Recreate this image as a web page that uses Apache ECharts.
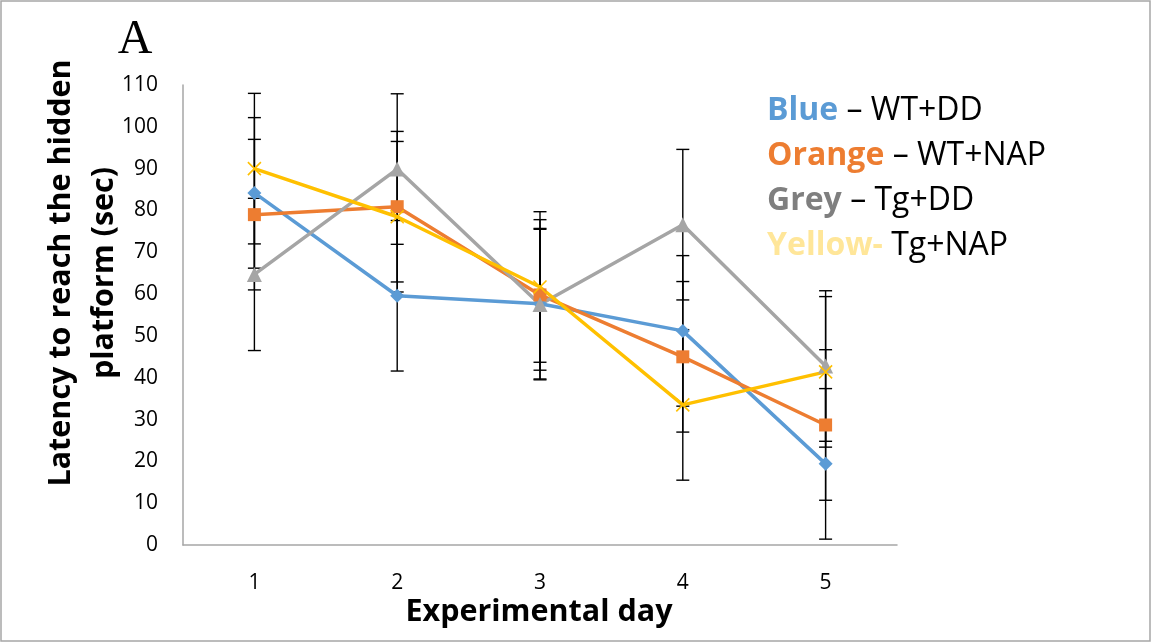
<!DOCTYPE html>
<html>
<head>
<meta charset="utf-8">
<script src="https://cdn.jsdelivr.net/npm/echarts@6/dist/echarts.min.js"></script>
<style>html,body{margin:0;padding:0;background:#fff}#c{width:1153px;height:643px}</style>
</head>
<body>
<div id="c"></div>
<script>
const days = ['1', '2', '3', '4', '5'];
const yTicks = { min: 0, max: 110, interval: 10 };

const wtDD   = [84.2, 59.6, 57.7, 51.2, 19.4];
const wtNAP  = [79.0, 80.9, 59.8, 45.0, 28.7];
const tgDD   = [64.7, 89.9, 57.5, 76.6, 42.8];
const tgNAP  = [90.0, 78.5, 61.7, 33.5, 41.4];

const wtDDErr  = [18.0, 18.0, 18.0, 18.0, 18.0];
const wtNAPErr = [18.0, 18.0, 18.0, 18.0, 18.0];
const tgDDErr  = [18.2, 18.0, 18.0, 18.0, 18.0];
const tgNAPErr = [18.0, 18.0, 18.0, 18.0, 18.0];

const seriesNames = ['WT+DD', 'WT+NAP', 'Tg+DD', 'Tg+NAP'];
const legendWords = ['Blue', 'Orange', 'Grey', 'Yellow-'];
const legendTails = [' – WT+DD', ' – WT+NAP', ' – Tg+DD', ' Tg+NAP'];
const yTitle = 'Latency to reach the hidden\nplatform (sec)';
const xTitle = 'Experimental day';
const panelLabel = 'A';

const colors = ['#5B9BD5', '#ED7D31', '#A5A5A5', '#FFC000'];
const legendColors = ['#5B9BD5', '#ED7D31', '#7F7F7F', '#FFE699'];
const FONT = '"Open Sans", "Liberation Sans", sans-serif';

const means = [wtDD, wtNAP, tgDD, tgNAP];
const errs = [wtDDErr, wtNAPErr, tgDDErr, tgNAPErr];

function errorSeries(i) {
  return {
    type: 'custom',
    name: seriesNames[i] + ' err',
    z: 1,
    silent: true,
    data: means[i].map((m, k) => [k, m - errs[i][k], m + errs[i][k]]),
    renderItem: function (params, api) {
      const x = api.value(0);
      const lo = api.coord([x, api.value(1)]);
      const hi = api.coord([x, api.value(2)]);
      const hw = 6.5;
      const st = { stroke: '#000', lineWidth: 1.4 };
      return {
        type: 'group',
        children: [
          { type: 'line', shape: { x1: lo[0], y1: lo[1], x2: hi[0], y2: hi[1] }, style: st },
          { type: 'line', shape: { x1: lo[0] - hw, y1: lo[1], x2: lo[0] + hw, y2: lo[1] }, style: st },
          { type: 'line', shape: { x1: hi[0] - hw, y1: hi[1], x2: hi[0] + hw, y2: hi[1] }, style: st }
        ]
      };
    }
  };
}

const symbols = ['diamond', 'rect', 'triangle', 'path://M0,0L10,10M10,0L0,10'];
const symbolSizes = [14, 13, 15, 13];

function lineSeries(i) {
  const s = {
    type: 'line',
    name: seriesNames[i],
    z: 3,
    data: means[i],
    symbol: symbols[i],
    symbolSize: symbolSizes[i],
    showAllSymbol: true,
    lineStyle: { color: colors[i], width: 3.5 },
    itemStyle: { color: colors[i] },
    emphasis: { disabled: true }
  };
  if (i === 3) {
    s.itemStyle = { color: 'none', borderColor: colors[i], borderWidth: 1.6 };
  }
  return s;
}

const chart = echarts.init(document.getElementById('c'), null, { renderer: 'canvas' });

const graphics = [
  { type: 'rect', shape: { x: 1, y: 1, width: 1149, height: 640 }, style: { fill: 'none', stroke: '#A6A6A6', lineWidth: 1.5 }, z: 0 },
  { type: 'text', x: 135, y: 40, style: { text: panelLabel, font: '48px "Liberation Serif", "DejaVu Serif", serif', fill: '#000', textAlign: 'center', textVerticalAlign: 'middle' } },
  { type: 'text', x: 83, y: 273, rotation: Math.PI / 2, style: { text: yTitle, font: 'bold 30.5px ' + FONT, lineHeight: 43, fill: '#000', textAlign: 'center', textVerticalAlign: 'middle' } },
  { type: 'text', x: 539, y: 612, style: { text: xTitle, font: 'bold 30.5px ' + FONT, fill: '#000', textAlign: 'center', textVerticalAlign: 'middle' } }
];
const legendY = [111, 156, 201, 246];
for (let i = 0; i < 4; i++) {
  graphics.push({
    type: 'text', x: 767, y: legendY[i],
    style: {
      text: '{w|' + legendWords[i] + '}{t|' + legendTails[i] + '}',
      textVerticalAlign: 'middle',
      rich: {
        w: { fontFamily: FONT, fontSize: 32, fontWeight: 'bold', fill: legendColors[i], color: legendColors[i] },
        t: { fontFamily: FONT, fontSize: 32, fill: '#000', color: '#000' }
      }
    }
  });
}

const option = {
  animation: false,
  backgroundColor: '#fff',
  grid: { left: 183, right: 256, top: 85, bottom: 98 },
  xAxis: {
    type: 'category',
    data: days,
    boundaryGap: true,
    axisLine: { lineStyle: { color: '#A6A6A6', width: 1.5 } },
    axisTick: { show: false },
    axisLabel: { fontSize: 21, fontFamily: FONT, color: '#000', margin: 28 },
    splitLine: { show: false }
  },
  yAxis: {
    type: 'value',
    min: yTicks.min, max: yTicks.max, interval: yTicks.interval,
    axisLine: { show: true, lineStyle: { color: '#A6A6A6', width: 1.5 } },
    axisTick: { show: false },
    axisLabel: { fontSize: 21, fontFamily: FONT, color: '#000', margin: 25 },
    splitLine: { show: false }
  },
  series: [0, 1, 2, 3].map(errorSeries).concat([0, 1, 2, 3].map(lineSeries)),
  graphic: graphics
};
chart.setOption(option);
</script>
</body>
</html>
